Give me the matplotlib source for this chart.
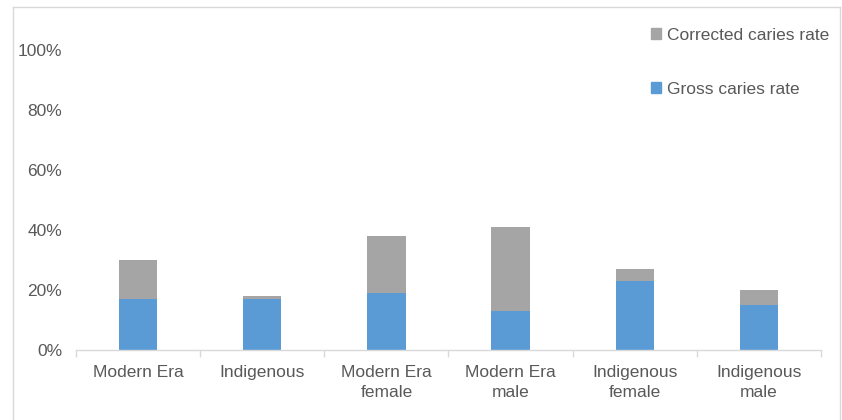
import numpy as np
import matplotlib
matplotlib.use("Agg")
import matplotlib.pyplot as plt
from matplotlib.patches import Patch
from matplotlib.lines import Line2D
from matplotlib.ticker import PercentFormatter

categories = ["Modern Era", "Indigenous", "Modern Era\nfemale", "Modern Era\nmale",
              "Indigenous\nfemale", "Indigenous\nmale"]
gross = [0.17, 0.17, 0.19, 0.13, 0.23, 0.15]
corrected_total = [0.30, 0.18, 0.38, 0.41, 0.27, 0.20]
corrected = [t - g for t, g in zip(corrected_total, gross)]

blue = "#5B9BD5"
grey = "#A5A5A5"
text_col = "#595959"
line_col = "#D9D9D9"

plt.rcParams['font.family'] = ['Liberation Sans', 'DejaVu Sans']

fig = plt.figure(figsize=(8.42, 4.2), dpi=100)
ax = fig.add_axes([76 / 842, 1 - 350 / 420, 745 / 842, 300 / 420])

x = np.arange(len(categories))
ax.bar(x, gross, width=0.31, color=blue, label="Gross caries rate", zorder=2)
ax.bar(x, corrected, width=0.31, bottom=gross, color=grey,
       label="Corrected caries rate", zorder=2)

ax.set_xlim(-0.5, len(categories) - 0.5)
ax.set_ylim(0, 1.0)
ax.set_yticks(np.arange(0, 1.01, 0.2))
ax.yaxis.set_major_formatter(PercentFormatter(1.0, decimals=0))
ax.set_xticks(x)
ax.set_xticklabels(categories, linespacing=1.4)
ax.set_xticks(np.arange(-0.5, len(categories), 1), minor=True)
ax.tick_params(axis='x', which='major', length=0, pad=11, labelsize=12.5, colors=text_col)
ax.tick_params(axis='x', which='minor', length=5, color=line_col, width=1)
ax.tick_params(axis='y', length=0, pad=10, labelsize=12.5, colors=text_col)

for s in ["top", "right", "left"]:
    ax.spines[s].set_visible(False)
ax.spines["bottom"].set_color(line_col)
ax.spines["bottom"].set_linewidth(1)

handles = [Patch(color=grey, label="Corrected caries rate"),
           Patch(color=blue, label="Gross caries rate")]
fig.legend(handles=handles, loc="upper left", bbox_to_anchor=(651 / 842, 1 - 28 / 420),
           frameon=False, fontsize=12.5, labelcolor=text_col, handlelength=0.6,
           handleheight=0.6, handletextpad=0.35, labelspacing=2.25, borderpad=0,
           borderaxespad=0)

# outer frame of the chart area
fig.add_artist(Line2D([13 / 842, 13 / 842], [0, 1 - 7 / 420], transform=fig.transFigure,
                      color=line_col, lw=1))
fig.add_artist(Line2D([13 / 842, 840 / 842], [1 - 7 / 420, 1 - 7 / 420],
                      transform=fig.transFigure, color=line_col, lw=1))
fig.add_artist(Line2D([840 / 842, 840 / 842], [0, 1 - 7 / 420], transform=fig.transFigure,
                      color=line_col, lw=1))

fig.savefig("out.png", dpi=100)
